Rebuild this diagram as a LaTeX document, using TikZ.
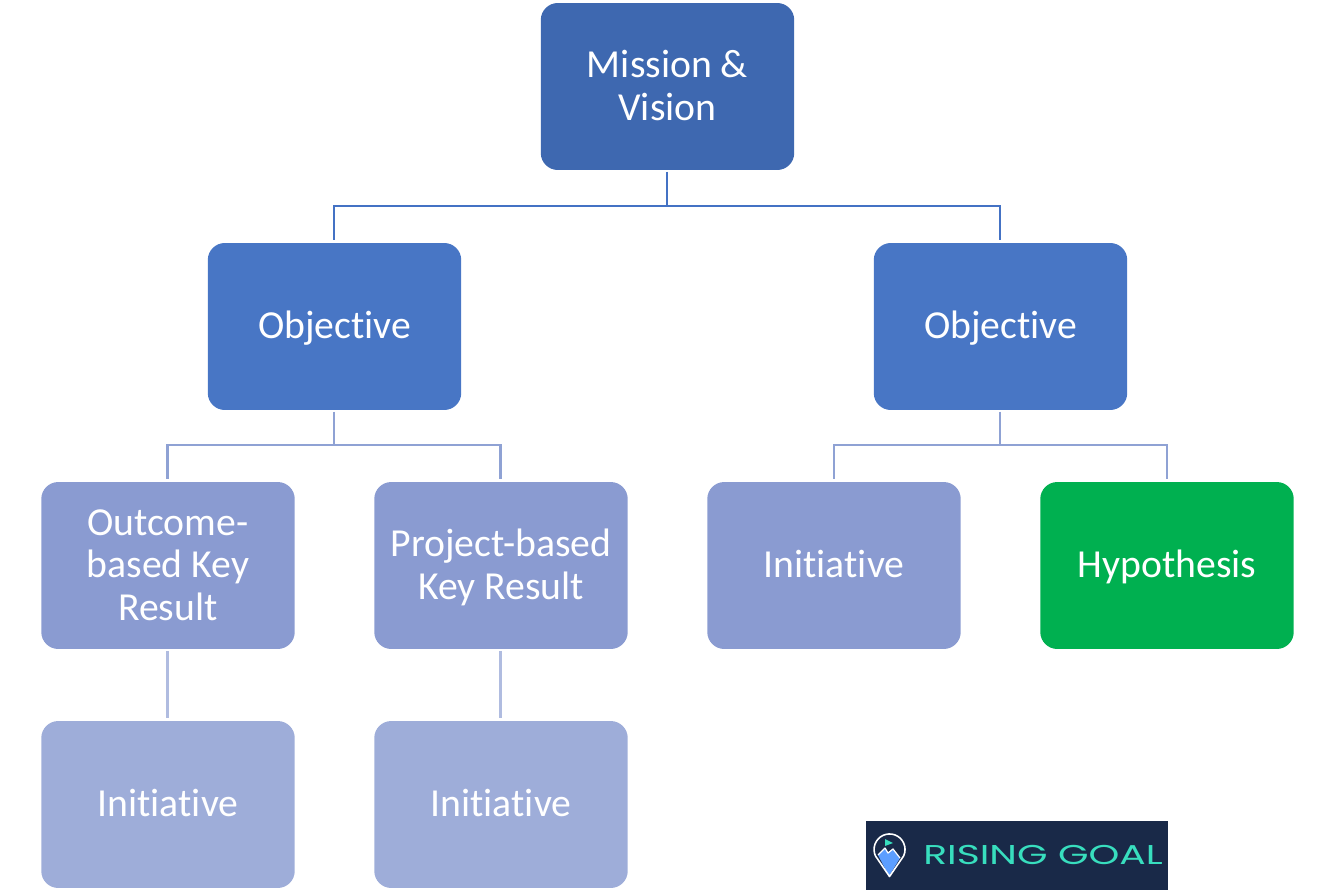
\documentclass[tikz,border=0pt]{standalone}
\usepackage{fontspec}
\setmainfont[Ligatures=NoCommon]{Carlito}
\newfontfamily\logofont{Poppins}
\usetikzlibrary{positioning}
\definecolor{MissionBlue}{RGB}{62,104,176}
\definecolor{ObjectiveBlue}{RGB}{72,118,197}
\definecolor{ResultBlue}{RGB}{138,155,209}
\definecolor{InitiativeBlue}{RGB}{158,173,217}
\definecolor{HypothesisGreen}{RGB}{0,176,80}
\definecolor{LinkTop}{RGB}{68,114,196}
\definecolor{LinkMid}{RGB}{143,162,212}
\definecolor{LinkLow}{RGB}{176,188,224}
\definecolor{LogoNavy}{RGB}{25,41,72}
\definecolor{LogoTeal}{RGB}{56,222,190}
\definecolor{LogoSky}{RGB}{92,158,255}
\newcommand{\okrstrut}{\rule[-5.12pt]{0pt}{24.4pt}}
\tikzset{
  okrbox/.style={rectangle,rounded corners=.34cm,inner sep=0pt,outer sep=0pt,text=white,align=center,
    minimum width=5.07cm,minimum height=3.34cm,font=\fontsize{22.6}{24.4}\selectfont,
    execute at begin node=\okrstrut,execute at end node=\okrstrut},
  link/.style={line width=1.15pt,transform canvas={xshift=-.01cm},shorten <=.04cm,shorten >=.06cm},
}
\begin{document}
\begin{tikzpicture}[x=.02cm,y=-.02cm]
\useasboundingbox (0,0) rectangle (1334,892);
\node[okrbox,fill=MissionBlue] (mission) at (667.5,86.5){\okrstrut Mission \&\\Vision};
\node[okrbox,fill=ObjectiveBlue] (obj1) at (334.5,326.5){Objective};
\node[okrbox,fill=ObjectiveBlue] (obj2) at (1000.5,326.5){Objective};
\node[okrbox,fill=ResultBlue] (kr1) at (168,565.5){\okrstrut Outcome-\\based Key\\Result};
\node[okrbox,fill=ResultBlue] (kr2) at (501,565.5){\okrstrut Project-based\\Key Result};
\node[okrbox,fill=ResultBlue] (ini3) at (834,565.5){Initiative};
\node[okrbox,fill=HypothesisGreen] (hyp) at (1167,565.5){Hypothesis};
\node[okrbox,fill=InitiativeBlue] (ini1) at (168,804.5){Initiative};
\node[okrbox,fill=InitiativeBlue] (ini2) at (501,804.5){Initiative};
\draw[link,LinkTop] (mission.south)--++(0,36)-|(obj1.north);
\draw[link,LinkTop] (mission.south)--++(0,36)-|(obj2.north);
\draw[link,LinkMid] (obj1.south)--++(0,35)-|(kr1.north);
\draw[link,LinkMid] (obj1.south)--++(0,35)-|(kr2.north);
\draw[link,LinkMid] (obj2.south)--++(0,35)-|(ini3.north);
\draw[link,LinkMid] (obj2.south)--++(0,35)-|(hyp.north);
\draw[link,LinkLow] (kr1)--(ini1);
\draw[link,LinkLow] (kr2)--(ini2);
\fill[LogoNavy] (866,821) rectangle (1168,890);
\node[text=LogoTeal,xscale=1.44,inner sep=0pt,font=\logofont\fontsize{15.5}{18}\selectfont] (logotext) at (1043,855){RISING GOAL};
\fill[LogoSky] (878,855)--(885,848)--(888,853)--(893,849)--(900,858)--(889,876)--cycle;
\draw[white,line width=.7pt,line join=round] (878,855)--(885,848)--(888,853)--(893,849)--(900,858);
\draw[white,line width=.9pt,line join=round] (889.5,876.5)--(875.5,856) arc[start angle=155,end angle=385,radius=15.5]--cycle;
\fill[LogoTeal] (885,839)--(893,843)--(885,846)--cycle;
\end{tikzpicture}
\end{document}
